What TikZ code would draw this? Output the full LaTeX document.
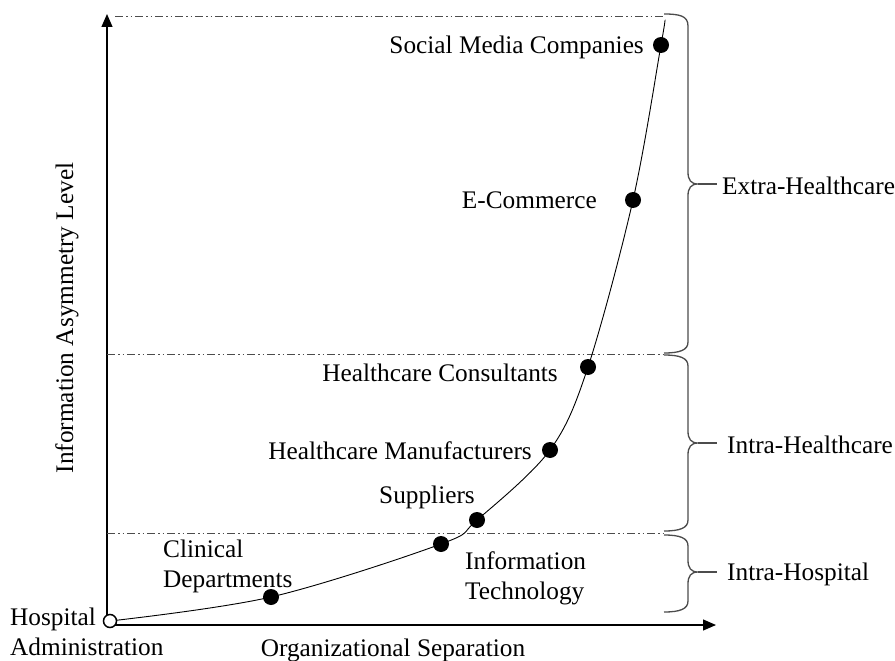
\documentclass[tikz,border=0pt]{standalone}
\usepackage{fontspec}
\setmainfont{Liberation Serif}
\usetikzlibrary{arrows.meta}
\begin{document}
\begin{tikzpicture}[x=1pt,y=-1pt,
  lbl/.style={inner sep=0pt, font=\fontsize{25.3}{30}\selectfont},
  dot/.style={circle, fill=black, inner sep=0pt, minimum size=16pt},
  hollow/.style={circle, draw=black, fill=white, line width=1.5pt, inner sep=0pt, minimum size=13pt},
  axis/.style={line width=1.2pt, -{Triangle[length=13pt,width=11pt]}},
  level/.style={draw=black!70, line width=0.9pt, dash pattern=on 8pt off 3pt on 1.5pt off 3pt on 1.5pt off 3pt},
  bracket/.style={draw=black!70, line width=1.3pt},
  curve/.style={line width=0.9pt}]
\useasboundingbox (0,0) rectangle (895,661);

% axes
\coordinate (orig) at (107,625);
\coordinate (ytip) at (107,14);
\coordinate (xtip) at (716,625);
\draw[axis] (orig) -- (ytip);
\draw[axis] (orig) -- (xtip);

% level separators
\coordinate (l1a) at (115,16);  \coordinate (l1b) at (664,16);
\coordinate (l2a) at (107,354); \coordinate (l2b) at (664,354);
\coordinate (l3a) at (107,533); \coordinate (l3b) at (664,533);
\draw[level] (l1a) -- (l1b);
\draw[level] (l2a) -- (l2b);
\draw[level] (l3a) -- (l3b);

% curve through the stakeholders
\coordinate (p0) at (110,621);
\coordinate (p1) at (271,597);
\coordinate (p2) at (441,544);
\coordinate (p3) at (477,520);
\coordinate (p4) at (550,450);
\coordinate (p5) at (588,367);
\coordinate (p6) at (633,200);
\coordinate (p7) at (661,45);
\coordinate (p8) at (665,20);
\draw[curve] plot[smooth, tension=0.55] coordinates {(p0) (p1) (p2) (p3) (p4) (p5) (p6) (p7) (p8)};

\node[hollow] (admin) at (p0) {};
\node[dot] (clin) at (p1) {};
\node[dot] (it) at (p2) {};
\node[dot] (supp) at (p3) {};
\node[dot] (manu) at (p4) {};
\node[dot] (cons) at (p5) {};
\node[dot] (ecom) at (p6) {};
\node[dot] (social) at (p7) {};

% stakeholder labels
\node[lbl, anchor=east] (tsocial) at (644,47) {Social Media Companies};
\node[lbl, anchor=east] (tecom) at (597,200) {E-Commerce};
\node[lbl, anchor=east] (tcons) at (558,373) {Healthcare Consultants};
\node[lbl, anchor=east] (tmanu) at (532,451) {Healthcare Manufacturers};
\node[lbl, anchor=east] (tsupp) at (475,497) {Suppliers};
\node[lbl, anchor=west, align=left] (tclin) at (163,566) {Clinical\\Departments};
\node[lbl, anchor=west, align=left] (tit) at (465,578) {Information\\Technology};
\node[lbl, anchor=west, align=left] (tadmin) at (10,632) {Hospital\\Administration};

% axis titles
\node[lbl] (xlab) at (393,650) {Organizational Separation};
\node[lbl, rotate=90] (ylab) at (67,318) {Information Asymmetry Level};

% braces grouping the levels
\draw[bracket] (664,14) .. controls (680,14) and (688,16) .. (688,26)
  -- (688,172) .. controls (688,180) and (691,184) .. (698,184)
  .. controls (691,184) and (688,188) .. (688,196)
  -- (688,342) .. controls (688,350) and (680,353) .. (664,353);
\draw[bracket] (664,355) .. controls (680,355) and (688,358) .. (688,366)
  -- (688,431) .. controls (688,439) and (691,443) .. (698,443)
  .. controls (691,443) and (688,447) .. (688,455)
  -- (688,520) .. controls (688,528) and (680,531) .. (664,531);
\draw[bracket] (664,535) .. controls (680,535) and (688,538) .. (688,546)
  -- (688,560) .. controls (688,568) and (691,572) .. (698,572)
  .. controls (691,572) and (688,576) .. (688,584)
  -- (688,601) .. controls (688,609) and (680,612) .. (664,612);

\coordinate (b1) at (698,184);
\coordinate (b2) at (698,443);
\coordinate (b3) at (698,572);
\coordinate (e1) at (717,184);
\coordinate (e2) at (717,443);
\coordinate (e3) at (717,572);
\node[lbl, anchor=west] (extra) at (722,186) {Extra-Healthcare};
\node[lbl, anchor=west] (intrah) at (727,445) {Intra-Healthcare};
\node[lbl, anchor=west] (intrahosp) at (727,574) {Intra-Hospital};
\draw[bracket] (b1) -- (e1);
\draw[bracket] (b2) -- (e2);
\draw[bracket] (b3) -- (e3);
\end{tikzpicture}
\end{document}
